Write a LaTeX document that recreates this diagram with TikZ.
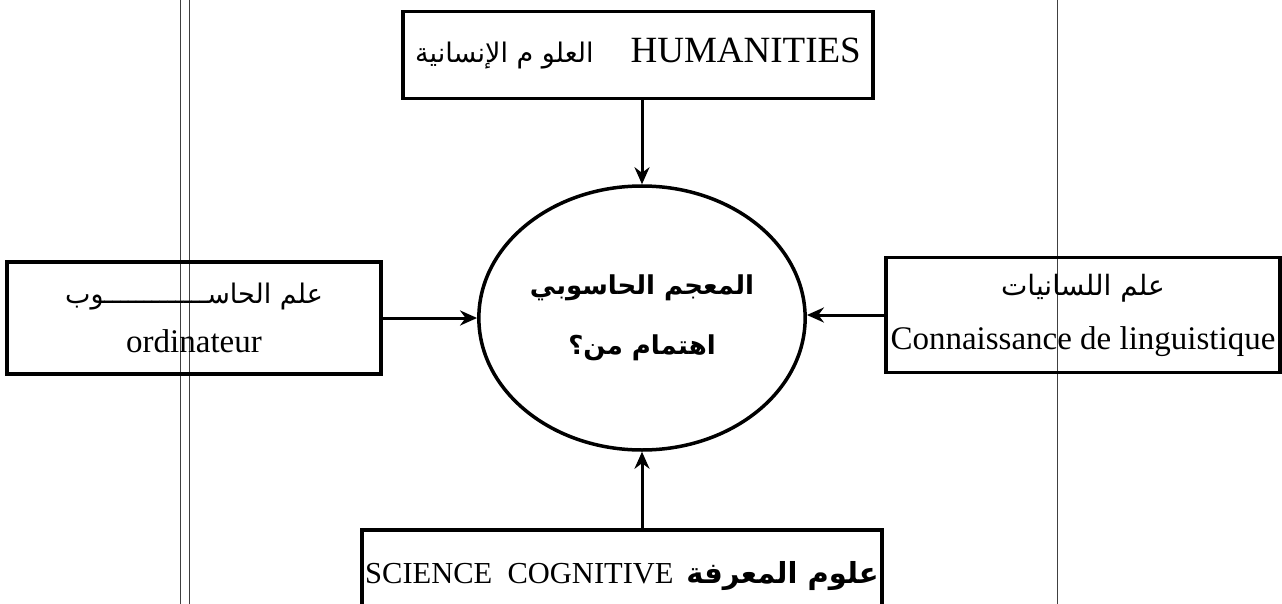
\documentclass[tikz,border=0pt]{standalone}
\usepackage{fontspec}
\setmainfont{Liberation Serif}
\newfontfamily\arabicfont[Script=Arabic]{DejaVu Sans}
\TeXXeTstate=1
\usetikzlibrary{arrows.meta,shapes.geometric}
\tikzstyle{block} = [rectangle, draw, line width=3.5pt, align=center, inner sep=0pt, font=\fontsize{33}{40}\selectfont]
\tikzstyle{hub} = [ellipse, draw, line width=3.5pt, align=center, minimum width=314pt, minimum height=264pt, font=\fontsize{26}{40}\selectfont]
\tikzset{edge/.style = {
    -{Stealth[length=17pt, width=15pt]},
    line width=3pt
  }
}
\newcommand{\artext}[2][26]{{\fontsize{#1}{40}\arabicfont\beginR #2\endR}}

\begin{document}
\begin{tikzpicture}[x=1pt, y=-1pt]
            \clip (0,0) rectangle (1282,604);
            \fill[white] (0,0) rectangle (1282,604);
            % scan margins
            \draw[black!75, line width=0.9pt] (180,0) -- (180,604);
            \draw[black!75, line width=0.9pt] (189,0) -- (189,604);
            \draw[black!75, line width=0.9pt] (1057,0) -- (1057,604);

            % vertices
            \node[hub] (hub) at (642 , 318) {\artext{\bfseries المعجم الحاسوبي}\\[20pt] \artext{\bfseries اهتمام من؟}};
            \node[block, minimum width=470pt, minimum height=87pt, font=\fontsize{37}{40}\selectfont] (top) at (638 , 55) {\artext[27]{العلو م الإنسانية}\quad HUMANITIES\raisebox{0pt}[0pt][10pt]{}};
            \node[block, minimum width=374pt, minimum height=112pt] (lft) at (194 , 318) {\artext[27]{علم الحاســـــــــــــوب}\\[9pt] ordinateur};
            \node[block, minimum width=394pt, minimum height=115pt] (rgt) at (1083 , 315) {\artext[28]{علم اللسانيات}\\[14pt] Connaissance de linguistique};
            \node[block, minimum width=520pt, minimum height=100pt, font=\fontsize{30.5}{40}\selectfont] (bot) at (622 , 580) {SCIENCE\enspace COGNITIVE\, \artext[29]{\bfseries علوم المعرفة}\raisebox{0pt}[0pt][16pt]{}};

            %edges
            \draw[edge] (top.south -| hub.north) to (hub.north);
            \draw[edge] (bot.north -| hub.south) to (hub.south);
            \draw[edge] (lft.east) to (lft.east -| hub.west);
            \draw[edge] (rgt.west) to (rgt.west -| hub.east);
          \end{tikzpicture}
\end{document}
